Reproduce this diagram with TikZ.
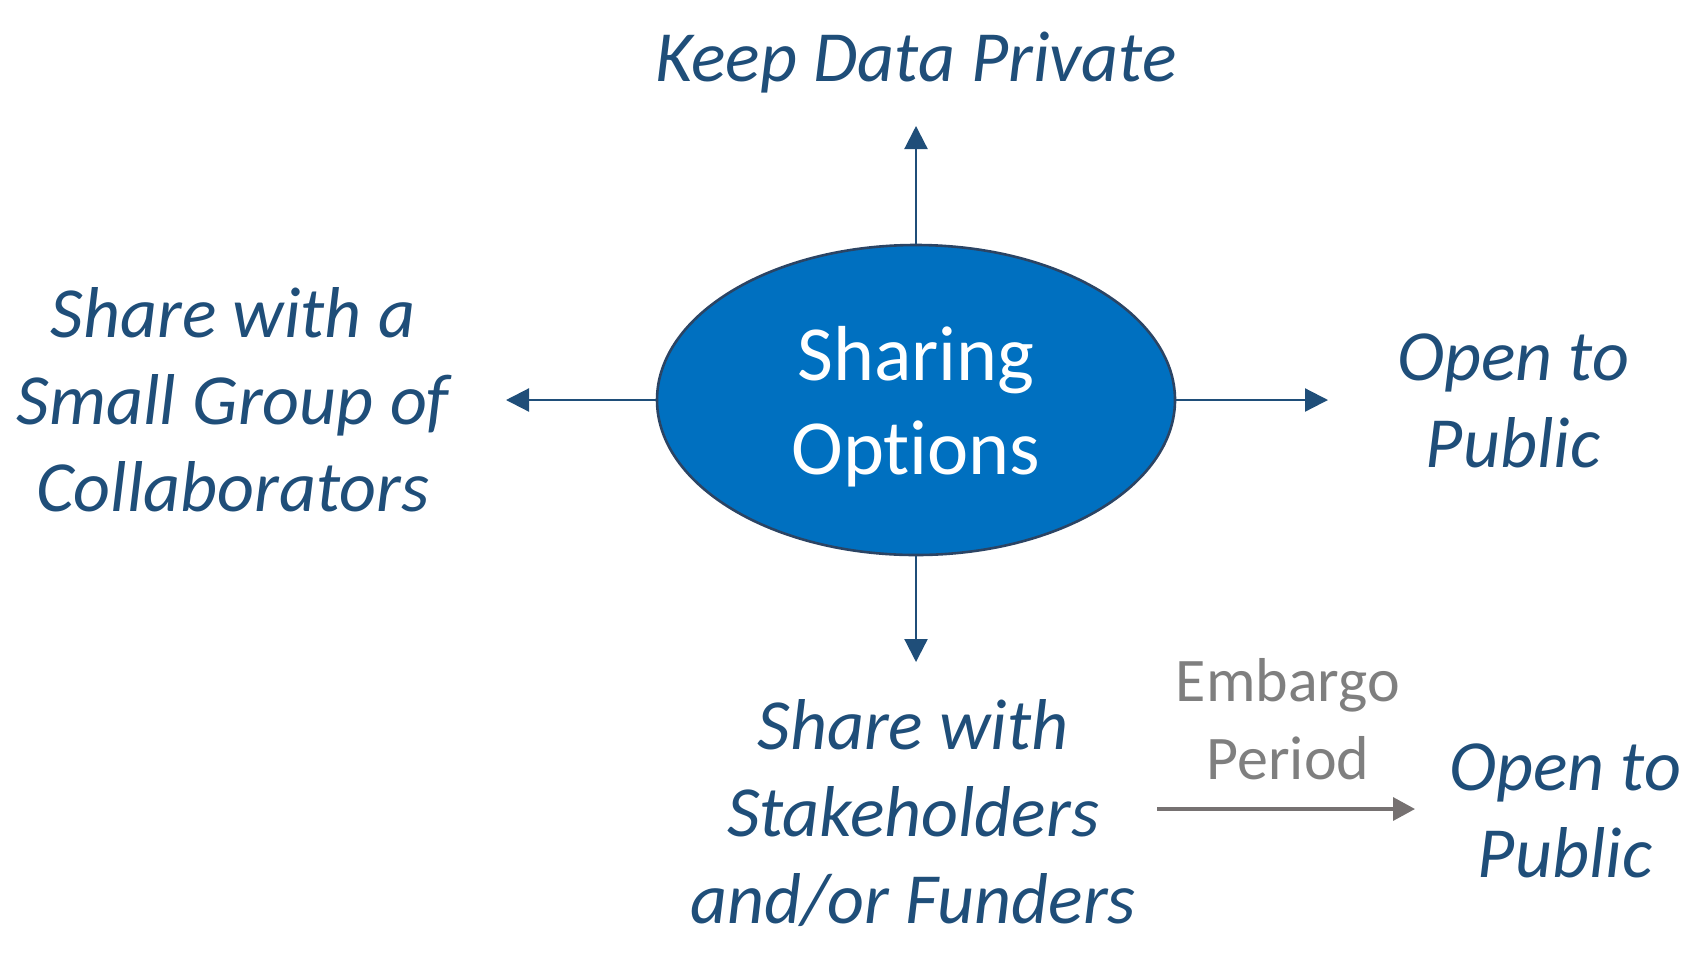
\documentclass[tikz,border=0pt]{standalone}
\usepackage{fontspec}
\setmainfont{Carlito}[Ligatures={NoCommon,NoRare,NoDiscretionary}]
\usepackage{xcolor}
\usepackage{tikz}
\usetikzlibrary{arrows.meta,shapes.geometric}
\definecolor{navytext}{HTML}{1F4E79}
\definecolor{ovalblue}{HTML}{0070C0}
\definecolor{ovalrim}{HTML}{2B4464}
\definecolor{embgray}{HTML}{7F7F7F}
\definecolor{arrgray}{HTML}{767171}

\begin{document}
\begin{tikzpicture}[x=0.5pt,y=-0.5pt,
  choice/.style={font=\fontsize{36}{43.5}\selectfont\itshape,text=navytext,
    align=center,inner sep=0pt},
  flow/.style={-{Triangle[length=11.5pt,width=11.5pt]},line width=1.1pt,
    draw=navytext}]
\useasboundingbox (0,0) rectangle (1700,954);
% centre oval
\node[ellipse,draw=ovalrim,line width=1.3pt,fill=ovalblue,minimum width=259pt,
  minimum height=155pt,inner sep=0pt,text=white,align=center,
  font=\fontsize{39}{47}\selectfont] (opts) at (916,400) {};
\node[text=white,align=center,inner sep=0pt,font=\fontsize{39}{47}\selectfont]
  (optstxt) at (916,407) {Sharing\\Options};
% the four choices
\node[choice] (private) at (916,63) {Keep Data Private};
\node[choice] (collab) at (233,400) {Share with a\\Small Group of\\Collaborators};
\node[choice] (public) at (1513,401) {Open to\\Public};
\node[choice] (stake) at (913,813) {Share with\\Stakeholders\\and/or Funders};
\node[choice] (later) at (1565,811) {Open to\\Public};
\node[font=\fontsize{31}{39}\selectfont,text=embgray,align=center,inner sep=0pt]
  (embargo) at (1288,719) {Embargo\\Period};
% arrow ends
\coordinate (privtip) at (916,126);
\coordinate (colltip) at (506,400);
\coordinate (pubtip) at (1328,400);
\coordinate (staketip) at (916,662);
\coordinate (embfrom) at (1157,809);
\coordinate (embto) at (1415,809);
\draw[flow] (opts.north) -- (privtip);
\draw[flow] (opts.west) -- (colltip);
\draw[flow] (opts.east) -- (pubtip);
\draw[flow] (opts.south) -- (staketip);
\draw[-{Triangle[length=11pt,width=11.5pt]},line width=1.7pt,draw=arrgray]
  (embfrom) -- (embto);
\end{tikzpicture}
\end{document}
